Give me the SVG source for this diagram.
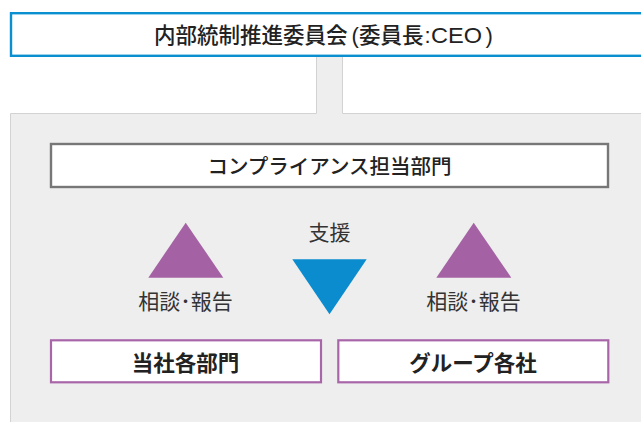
<svg xmlns="http://www.w3.org/2000/svg" width="641" height="422" viewBox="0 0 641 422">
<style>
  text { font-family: "Noto Sans CJK JP", "Noto Sans", sans-serif; fill: #222; }
  .c { text-anchor: middle; }
  .title { font-size: 21.5px; font-weight: 500; }
  .sub { font-size: 20.5px; font-weight: 500; }
  .latin { font-family: "Liberation Sans", Arial, sans-serif; font-size: 22px; }
  .node { font-size: 21.5px; font-weight: 700; }
  .label { font-size: 21px; fill: #333; }
  .panelLine { stroke: #d2d2d2; stroke-width: 1; fill: none; }
  .purpleBox { fill: #ffffff; stroke: #a866a8; stroke-width: 2.2; }
  .up { fill: #a462a5; }
  .down { fill: #0a8ccf; }
</style>
<rect x="0" y="0" width="641" height="422" fill="#ffffff"/>
<g id="panel">
  <rect x="10.5" y="113.5" width="640" height="320" fill="#eeeeee"/>
  <rect x="316.5" y="55" width="26" height="60" fill="#eeeeee"/>
  <path class="panelLine" d="M10.5 422 V113.5 H316.5 V55 M342.5 55 V113.5 H641"/>
</g>
<g id="committee">
  <rect x="11" y="13.2" width="640" height="42.6" fill="#ffffff" stroke="#0a8fd0" stroke-width="2.4"/>
  <text class="title" y="43"><tspan x="154">内部統制推進委員会</tspan><tspan class="latin" x="351.5">(</tspan><tspan x="359">委員長</tspan><tspan class="latin" x="424.5">:</tspan><tspan class="latin" x="431" textLength="51" lengthAdjust="spacingAndGlyphs">CEO</tspan><tspan class="latin" x="485.5">)</tspan></text>
</g>
<g id="compliance">
  <rect x="51" y="144" width="557" height="43" fill="#ffffff" stroke="#777777" stroke-width="2.4"/>
  <text class="sub c" x="329.5" y="173.8">コンプライアンス担当部門</text>
</g>
<g id="connectors">
  <g id="report-left">
    <polygon class="up" points="185.7,222.7 223.3,277.7 148.3,277.7"/>
    <text class="label c" x="185.5" y="308.5">相談･報告</text>
  </g>
  <g id="support">
    <text class="label c" x="329.5" y="240">支援</text>
    <polygon class="down" points="292.3,259.3 366.7,259.3 329.5,314.3"/>
  </g>
  <g id="report-right">
    <polygon class="up" points="473.7,222.7 511.3,277.7 436.3,277.7"/>
    <text class="label c" x="473.5" y="308.5">相談･報告</text>
  </g>
</g>
<g id="departments">
  <rect class="purpleBox" x="51" y="340.3" width="270" height="42"/>
  <text class="node c" x="185.5" y="370.8">当社各部門</text>
</g>
<g id="group-companies">
  <rect class="purpleBox" x="338.3" y="340.3" width="270" height="42"/>
  <text class="node c" x="473" y="370.8">グループ各社</text>
</g>
</svg>
